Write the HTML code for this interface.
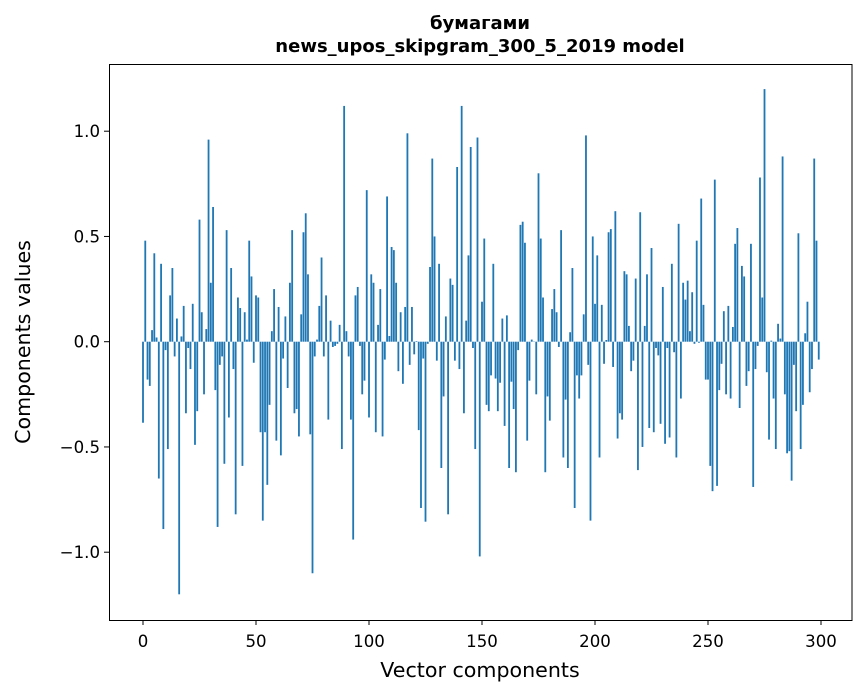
<!DOCTYPE html>
<html><head><meta charset="utf-8"><style>
html,body{margin:0;padding:0;background:#fff;}
svg{display:block;font-family:"DejaVu Sans","Liberation Sans",sans-serif;}
</style></head><body>
<svg id="s" width="867" height="696" xmlns="http://www.w3.org/2000/svg">
<rect width="867" height="696" fill="#fff"/>
<text x="480" y="29" text-anchor="middle" font-size="18" font-weight="bold">бумагами</text>
<text x="480" y="52" text-anchor="middle" font-size="18" font-weight="bold">news_upos_skipgram_300_5_2019 model</text>
<g id="bars" fill="#1f77b4"></g>
<rect x="109.5" y="64.5" width="742.5" height="556" fill="none" stroke="#000" stroke-width="1"/>
<g id="ticks" font-size="16.6" fill="#000"></g>
<text x="480" y="677" text-anchor="middle" font-size="20.6">Vector components</text>
<text transform="translate(30,342) rotate(-90)" text-anchor="middle" font-size="20.6">Components values</text>
</svg>
<script>
var v=[-0.385,0.48,-0.18,-0.21,0.055,0.42,0.02,-0.65,0.37,-0.89,-0.04,-0.51,0.22,0.35,-0.07,0.11,-1.2,0.025,0.17,-0.34,-0.03,-0.13,0.18,-0.49,-0.33,0.58,0.14,-0.25,0.06,0.96,0.28,0.64,-0.23,-0.88,-0.11,-0.07,-0.58,0.53,-0.36,0.35,-0.13,-0.82,0.21,0.16,-0.59,0.14,0.01,0.48,0.31,-0.1,0.22,0.21,-0.43,-0.85,-0.43,-0.68,-0.3,0.05,0.25,-0.47,0.165,-0.54,-0.08,0.12,-0.22,0.28,0.53,-0.34,-0.32,-0.45,0.13,0.52,0.61,0.32,-0.44,-1.1,
-0.07,0.01,0.17,0.4,-0.07,0.22,-0.37,0.1,-0.025,-0.02,-0.01,0.08,-0.51,1.12,0.05,-0.07,-0.37,-0.94,0.22,0.26,-0.02,-0.25,-0.185,0.72,-0.36,0.32,0.28,-0.43,0.08,0.25,-0.45,-0.085,0.69,0.027,0.45,0.435,0.28,-0.14,0.14,-0.2,0.165,0.99,-0.11,0.165,-0.06,0.003,-0.42,-0.79,-0.08,-0.855,-0.01,0.355,0.87,0.5,-0.09,0.37,-0.6,-0.26,0.12,-0.82,0.3,0.27,-0.09,0.83,-0.13,1.12,-0.34,0.1,0.41,0.925,-0.03,-0.51,0.97,-1.02,
0.19,0.49,-0.3,-0.33,-0.16,0.37,-0.175,-0.33,-0.195,0.11,-0.4,0.125,-0.6,-0.19,-0.32,-0.62,-0.04,0.555,0.57,0.47,-0.47,-0.185,0.01,0,-0.25,0.8,0.49,0.21,-0.62,-0.26,-0.375,0.155,0.25,0.14,-0.025,0.53,-0.55,-0.275,-0.6,0.045,0.35,-0.79,-0.16,-0.27,-0.16,0.13,0.98,-0.11,-0.85,0.5,0.18,0.41,-0.55,0.175,-0.105,0.008,0.52,0.535,-0.12,0.62,-0.46,-0.34,-0.37,0.335,0.32,0.075,-0.14,-0.09,0.3,-0.61,0.615,-0.5,0.075,0.32,-0.41,0.445,-0.43,
-0.03,-0.065,-0.39,0.26,-0.485,-0.03,-0.455,0.37,-0.05,-0.55,0.56,-0.27,0.28,0.2,0.29,0.05,0.235,-0.01,0.48,-0.005,0.68,0.175,-0.18,-0.18,-0.59,-0.71,0.77,-0.685,-0.23,-0.105,0.145,-0.25,0.17,-0.27,0.07,0.465,0.54,-0.315,0.36,0.31,-0.21,-0.14,0.465,-0.69,-0.13,-0.02,0.78,0.21,1.2,-0.145,-0.465,0.005,-0.27,-0.51,0.085,0.015,0.88,-0.25,-0.53,-0.52,-0.66,-0.11,-0.33,0.515,-0.51,-0.3,0.04,0.19,-0.24,-0.13,0.87,0.48,-0.085];
var NS="http://www.w3.org/2000/svg",g=document.getElementById("bars"),t=document.getElementById("ticks");
var X=function(i){return 143+2.26*i},Z=341.7,U=210.5;
v.forEach(function(d,i){var r=document.createElementNS(NS,"rect");var h=Math.abs(d)*U;
r.setAttribute("x",X(i)-0.9);r.setAttribute("width",1.81);r.setAttribute("y",d>=0?Z-h:Z);r.setAttribute("height",Math.max(h,0.3));g.appendChild(r);});
function el(n,a,txt){var e=document.createElementNS(NS,n);for(var k in a)e.setAttribute(k,a[k]);if(txt!=null)e.textContent=txt;t.appendChild(e);}
for(var k=0;k<=300;k+=50){var x=X(k);el("line",{x1:x,x2:x,y1:620,y2:625,stroke:"#000"});el("text",{x:x,y:647,"text-anchor":"middle"},String(k));}
[[1.0,"1.0"],[0.5,"0.5"],[0,"0.0"],[-0.5,"−0.5"],[-1.0,"−1.0"]].forEach(function(p){var y=Z-p[0]*U;el("line",{x1:104,x2:109,y1:y,y2:y,stroke:"#000"});el("text",{x:100,y:y+6,"text-anchor":"end"},p[1]);});
</script>
</body></html>
